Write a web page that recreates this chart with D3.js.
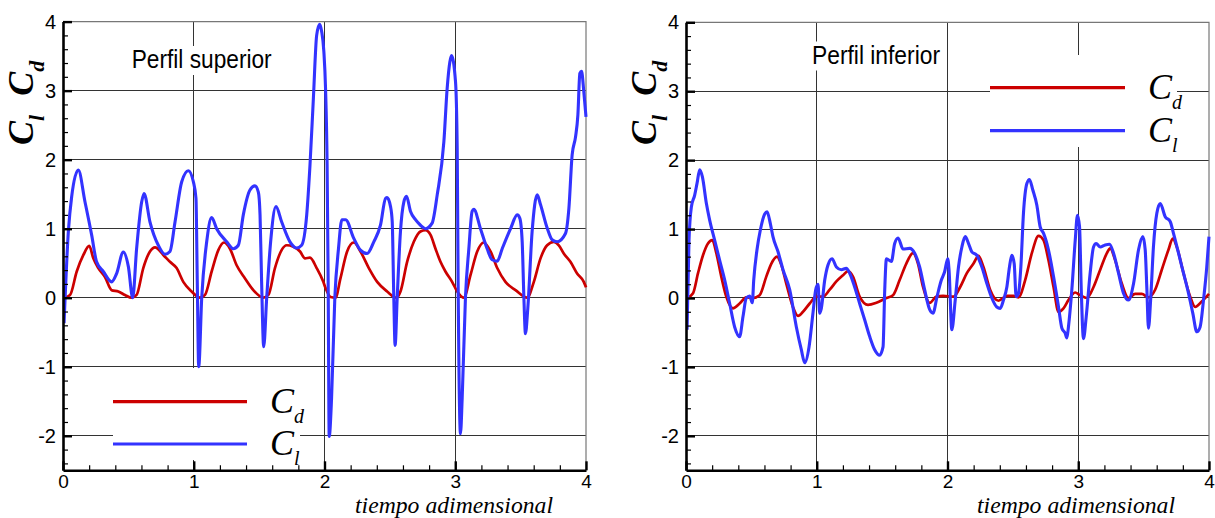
<!DOCTYPE html>
<html>
<head>
<meta charset="utf-8">
<script src="https://cdn.jsdelivr.net/npm/d3@7"></script>
<style>
  html, body { margin: 0; padding: 0; background: #ffffff; }
  svg { display: block; }
</style>
</head>
<body>
<svg id="chart" width="1215" height="518"></svg>
<script>
// ---------------- DATA ----------------
const xTicks = [0, 1, 2, 3, 4];
const yTicks = [-2, -1, 0, 1, 2, 3, 4];
const xLabel = "tiempo adimensional";
const panelTitles = ["Perfil superior", "Perfil inferior"];
const seriesNames = ["d", "l"]; // C_d (red), C_l (blue)

// Perfil superior : C_l  [tiempo, valor]
const supCl = [
  [0.008,-0.37],[0.041,0.96],[0.066,1.46],[0.117,1.85],[0.168,1.39],[0.219,0.91],[0.257,0.52],
  [0.308,0.38],[0.372,0.23],[0.410,0.35],[0.461,0.66],[0.500,0.45],[0.533,0.0],[0.563,0.71],
  [0.602,1.39],[0.620,1.51],[0.665,1.10],[0.729,0.76],[0.780,0.63],[0.818,0.67],[0.857,1.10],
  [0.908,1.68],[0.959,1.84],[0.997,1.68],[1.017,1.44],[1.027,0.23],[1.038,-1.0],[1.061,0.0],
  [1.099,0.81],[1.137,1.16],[1.175,1.0],[1.252,0.81],[1.303,0.71],[1.341,0.76],[1.379,1.20],
  [1.430,1.56],[1.468,1.62],[1.494,1.53],[1.507,1.20],[1.519,0.23],[1.535,-0.71],[1.558,0.0],
  [1.588,0.81],[1.629,1.32],[1.672,1.10],[1.736,0.81],[1.787,0.72],[1.825,0.76],[1.864,1.20],
  [1.889,1.92],[1.915,2.89],[1.940,3.80],[1.963,3.96],[1.978,3.86],[1.995,3.57],[2.008,3.03],
  [2.020,1.92],[2.028,0.23],[2.036,-2.01],[2.054,-1.46],[2.079,0.0],[2.107,0.71],[2.133,1.13],
  [2.161,1.13],[2.224,0.86],[2.275,0.69],[2.326,0.64],[2.377,0.81],[2.428,1.05],[2.467,1.44],
  [2.479,1.45],[2.505,1.32],[2.518,1.10],[2.530,0.0],[2.540,-0.69],[2.556,0.0],[2.581,0.96],
  [2.607,1.39],[2.627,1.47],[2.658,1.25],[2.696,1.13],[2.734,1.05],[2.772,1.0],[2.823,1.08],
  [2.862,1.49],[2.913,2.26],[2.938,3.03],[2.959,3.42],[2.971,3.51],[3.002,3.13],[3.015,2.16],
  [3.022,0.23],[3.040,-1.97],[3.053,-1.46],[3.078,0.0],[3.104,0.71],[3.129,1.25],[3.142,1.28],
  [3.193,1.0],[3.244,0.71],[3.282,0.55],[3.321,0.53],[3.359,0.71],[3.423,1.0],[3.474,1.20],
  [3.494,1.15],[3.512,0.81],[3.525,0.0],[3.537,-0.52],[3.555,-0.15],[3.588,0.96],[3.627,1.49],
  [3.652,1.35],[3.703,1.01],[3.741,0.84],[3.779,0.81],[3.843,0.93],[3.869,1.29],[3.894,2.07],
  [3.920,2.33],[3.938,2.65],[3.953,3.25],[3.966,3.28],[3.983,2.99],[4.0,2.62]
];

// Perfil superior : C_d
const supCd = [
  [0.008,0.0],[0.054,0.04],[0.105,0.38],[0.156,0.62],[0.201,0.75],[0.232,0.57],[0.270,0.43],
  [0.321,0.30],[0.372,0.11],[0.423,0.09],[0.474,0.04],[0.525,0.0],[0.563,0.04],[0.614,0.43],
  [0.665,0.67],[0.704,0.73],[0.767,0.62],[0.818,0.52],[0.869,0.43],[0.920,0.23],[0.984,0.09],
  [1.048,0.0],[1.086,0.04],[1.137,0.38],[1.188,0.69],[1.231,0.80],[1.277,0.71],[1.328,0.47],
  [1.392,0.28],[1.456,0.11],[1.533,0.0],[1.571,0.04],[1.621,0.43],[1.672,0.69],[1.711,0.76],
  [1.762,0.74],[1.813,0.67],[1.851,0.57],[1.889,0.58],[1.940,0.43],[1.991,0.23],[2.008,0.14],
  [2.046,0.01],[2.084,0.0],[2.122,0.28],[2.173,0.67],[2.224,0.80],[2.275,0.67],[2.339,0.43],
  [2.403,0.23],[2.479,0.09],[2.551,0.0],[2.581,0.09],[2.632,0.52],[2.683,0.81],[2.734,0.96],
  [2.772,0.98],[2.811,0.91],[2.849,0.71],[2.887,0.52],[2.925,0.38],[2.976,0.23],[3.015,0.09],
  [3.066,0.0],[3.117,0.33],[3.168,0.67],[3.219,0.80],[3.270,0.67],[3.321,0.43],[3.384,0.23],
  [3.461,0.11],[3.550,0.0],[3.601,0.23],[3.652,0.57],[3.703,0.76],[3.754,0.81],[3.792,0.76],
  [3.830,0.64],[3.881,0.52],[3.932,0.35],[3.983,0.23],[4.0,0.15]
];

// Perfil inferior : C_l
const infCl = [
  [0.008,-0.46],[0.023,0.84],[0.041,1.32],[0.066,1.49],[0.084,1.66],[0.105,1.86],[0.125,1.76],
  [0.156,1.37],[0.181,1.13],[0.219,0.84],[0.257,0.55],[0.296,0.26],[0.334,-0.08],[0.372,-0.42],
  [0.410,-0.56],[0.436,-0.27],[0.461,0.0],[0.487,0.03],[0.507,-0.07],[0.518,0.26],[0.543,0.70],
  [0.569,0.99],[0.602,1.22],[0.620,1.25],[0.645,1.08],[0.665,0.89],[0.704,0.67],[0.742,0.41],
  [0.793,0.12],[0.844,-0.42],[0.882,-0.75],[0.908,-0.94],[0.941,-0.71],[0.971,-0.22],[0.992,0.12],
  [1.010,0.20],[1.022,-0.22],[1.035,-0.15],[1.061,0.26],[1.086,0.48],[1.117,0.57],[1.150,0.45],
  [1.188,0.41],[1.226,0.43],[1.252,0.36],[1.290,0.16],[1.328,-0.08],[1.367,-0.32],[1.405,-0.56],
  [1.443,-0.75],[1.481,-0.83],[1.507,-0.71],[1.520,0.12],[1.533,0.57],[1.571,0.53],[1.596,0.79],
  [1.622,0.87],[1.660,0.71],[1.711,0.72],[1.749,0.65],[1.787,0.45],[1.825,0.12],[1.864,-0.17],
  [1.889,-0.22],[1.920,0.02],[1.953,0.26],[1.978,0.38],[2.002,0.57],[2.012,0.40],[2.033,-0.46],
  [2.059,-0.03],[2.084,0.45],[2.110,0.74],[2.135,0.89],[2.161,0.79],[2.186,0.67],[2.224,0.62],
  [2.263,0.45],[2.301,0.21],[2.339,0.0],[2.377,-0.13],[2.403,-0.15],[2.428,-0.03],[2.454,0.16],
  [2.474,0.45],[2.492,0.62],[2.510,0.50],[2.525,0.02],[2.543,0.07],[2.561,0.45],[2.581,1.23],
  [2.607,1.66],[2.627,1.72],[2.652,1.57],[2.683,1.35],[2.709,1.03],[2.734,0.94],[2.772,0.70],
  [2.811,0.31],[2.849,-0.13],[2.875,-0.44],[2.900,-0.51],[2.913,-0.58],[2.925,-0.42],[2.951,0.12],
  [2.977,0.84],[2.994,1.20],[3.010,1.03],[3.023,0.12],[3.040,-0.59],[3.061,-0.27],[3.091,0.36],
  [3.117,0.74],[3.137,0.79],[3.168,0.74],[3.206,0.77],[3.239,0.78],[3.270,0.65],[3.308,0.36],
  [3.346,0.07],[3.384,-0.03],[3.423,0.21],[3.461,0.70],[3.494,0.89],[3.512,0.70],[3.525,0.12],
  [3.537,-0.44],[3.555,0.02],[3.575,0.74],[3.601,1.23],[3.627,1.37],[3.665,1.18],[3.703,1.11],
  [3.728,0.94],[3.767,0.65],[3.805,0.36],[3.843,0.07],[3.876,-0.22],[3.907,-0.49],[3.932,-0.42],
  [3.958,-0.03],[3.983,0.45],[4.0,0.89]
];

// Perfil inferior : C_d
const infCd = [
  [0.008,0.0],[0.054,0.07],[0.092,0.36],[0.130,0.62],[0.168,0.79],[0.201,0.84],[0.232,0.65],
  [0.270,0.31],[0.308,0.02],[0.359,-0.15],[0.410,-0.08],[0.461,0.01],[0.512,0.0],[0.563,0.04],
  [0.614,0.31],[0.653,0.50],[0.696,0.60],[0.729,0.48],[0.767,0.21],[0.818,-0.13],[0.857,-0.26],
  [0.895,-0.20],[0.946,-0.08],[0.997,0.02],[1.048,0.02],[1.099,0.12],[1.150,0.24],[1.201,0.33],
  [1.239,0.39],[1.277,0.31],[1.328,0.02],[1.392,-0.10],[1.456,-0.07],[1.533,0.0],[1.583,0.04],
  [1.634,0.26],[1.685,0.50],[1.736,0.65],[1.774,0.50],[1.813,0.16],[1.864,-0.07],[1.915,0.02],
  [1.966,0.03],[2.046,0.02],[2.097,0.16],[2.148,0.36],[2.199,0.50],[2.237,0.61],[2.275,0.45],
  [2.326,0.12],[2.390,-0.04],[2.454,0.03],[2.505,0.03],[2.543,0.01],[2.594,0.26],[2.645,0.65],
  [2.696,0.90],[2.734,0.84],[2.772,0.55],[2.811,0.16],[2.849,-0.20],[2.887,-0.15],[2.925,-0.03],
  [2.976,0.08],[3.015,0.04],[3.066,0.0],[3.117,0.16],[3.168,0.41],[3.219,0.65],[3.244,0.72],
  [3.282,0.55],[3.333,0.21],[3.384,0.0],[3.435,0.06],[3.486,0.06],[3.537,0.01],[3.588,0.12],
  [3.639,0.41],[3.690,0.70],[3.723,0.86],[3.754,0.74],[3.805,0.36],[3.856,0.02],[3.894,-0.13],
  [3.945,-0.05],[4.0,0.06]
];

// ---------------- DRAW ----------------
const svg = d3.select("#chart");
const RED = "#cc0000", BLUE = "#3333ff";
const SANS = "'Liberation Sans', Arial, sans-serif";
const SERIF = "'Liberation Serif', 'Times New Roman', serif";
const fmt = d => String(d);

const panels = [
  { x0: 63, x1: 586, yTop: 21.6, yBot: 470.3, cl: supCl, cd: supCd, title: panelTitles[0],
    titleX: 131.7, titleY: 68, titleLen: 140,
    legend: { bx: 113, by: 368, bw: 187, bh: 92, lx0: 113, lx1: 247, yRed: 401.7, yBlue: 444, tx: 270 },
    xLabelX: 355 },
  { x0: 686, x1: 1209, yTop: 22.3, yBot: 470.3, cl: infCl, cd: infCd, title: panelTitles[1],
    titleX: 812, titleY: 63.5, titleLen: 128,
    legend: { bx: 990, by: 55, bw: 187, bh: 92, lx0: 990, lx1: 1125, yRed: 87.7, yBlue: 130.7, tx: 1148 },
    xLabelX: 977 }
];

panels.forEach((p, i) => {
  const x = d3.scaleLinear().domain([0, 4]).range([p.x0, p.x1]);
  const y = d3.scaleLinear().domain([-2.5, 4]).range([p.yBot, p.yTop]);
  const g = svg.append("g");

  // grid lines
  g.append("g").selectAll("line").data(yTicks.filter(v => v < 4)).join("line")
    .attr("x1", x(0)).attr("x2", x(4)).attr("y1", d => y(d)).attr("y2", d => y(d))
    .attr("stroke", "#333").attr("stroke-width", 1).attr("shape-rendering", "crispEdges");
  g.append("g").selectAll("line").data(xTicks.filter(v => v > 0 && v < 4)).join("line")
    .attr("x1", d => x(d)).attr("x2", d => x(d)).attr("y1", y(4)).attr("y2", y(-2.5))
    .attr("stroke", "#333").attr("stroke-width", 1).attr("shape-rendering", "crispEdges");

  // frame top & right
  g.append("path")
    .attr("d", `M${x(0)},${y(4)}H${x(4)}V${y(-2.5)}`)
    .attr("fill", "none").attr("stroke", "#777").attr("stroke-width", 1.2);

  // title with white backing
  g.append("rect")
    .attr("x", p.titleX - 3).attr("y", p.titleY - 22).attr("width", p.titleLen + 6).attr("height", 29)
    .attr("fill", "#fff");
  g.append("text")
    .attr("x", p.titleX).attr("y", p.titleY)
    .attr("font-family", SANS).attr("font-size", 25)
    .attr("textLength", p.titleLen).attr("lengthAdjust", "spacingAndGlyphs")
    .attr("fill", "#000").text(p.title);

  // legend
  const L = p.legend;
  g.append("rect").attr("x", L.bx).attr("y", L.by).attr("width", L.bw).attr("height", L.bh).attr("fill", "#fff");
  [[L.yRed, RED, seriesNames[0]], [L.yBlue, BLUE, seriesNames[1]]].forEach(([ly, col, sub]) => {
    g.append("line").attr("x1", L.lx0).attr("x2", L.lx1).attr("y1", ly).attr("y2", ly)
      .attr("stroke", col).attr("stroke-width", 3.2);
    const t = g.append("text").attr("x", L.tx).attr("y", ly + 11)
      .attr("font-family", SERIF).attr("font-style", "italic").attr("font-size", 36).attr("fill", "#000");
    t.append("tspan").text("C");
    t.append("tspan").attr("dy", 10).attr("font-size", 20).text(sub);
  });

  // curves
  const clipId = "clip" + i;
  svg.append("clipPath").attr("id", clipId).append("rect")
    .attr("x", x(0)).attr("y", y(4) - 2).attr("width", x(4) - x(0) + 2).attr("height", y(-2.5) - y(4) + 2);
  const line = d3.line().x(d => x(d[0])).y(d => y(d[1])).curve(d3.curveMonotoneX);
  g.append("path").datum(p.cd).attr("d", line).attr("fill", "none")
    .attr("stroke", RED).attr("stroke-width", 2.7).attr("stroke-linejoin", "round").attr("clip-path", `url(#${clipId})`);
  g.append("path").datum(p.cl).attr("d", line).attr("fill", "none")
    .attr("stroke", BLUE).attr("stroke-width", 3.1).attr("stroke-linejoin", "round").attr("clip-path", `url(#${clipId})`);

  // axes
  const minorY = d3.range(-2.4, 4.0001, 0.2).map(v => +v.toFixed(1)).filter(v => !Number.isInteger(v));
  const minorX = d3.range(0.2, 4, 0.2).map(v => +v.toFixed(1)).filter(v => !Number.isInteger(v));

  const yAxis = g.append("g").attr("transform", `translate(${x(0)},0)`)
    .call(d3.axisLeft(y).tickValues(yTicks).tickSizeInner(-9).tickSizeOuter(0).tickPadding(7).tickFormat(fmt));
  yAxis.select(".domain").attr("stroke", "#000").attr("stroke-width", 2.6);
  yAxis.selectAll(".tick line").attr("stroke", "#000").attr("stroke-width", 2.4);
  yAxis.selectAll(".tick text").attr("font-family", SANS).attr("font-size", 20).attr("fill", "#000");
  const yMinor = g.append("g").attr("transform", `translate(${x(0)},0)`)
    .call(d3.axisLeft(y).tickValues(minorY).tickSizeInner(-5).tickSizeOuter(0).tickFormat(""));
  yMinor.select(".domain").remove();
  yMinor.selectAll(".tick line").attr("stroke", "#000").attr("stroke-width", 1.2);

  const xAxis = g.append("g").attr("transform", `translate(0,${y(-2.5)})`)
    .call(d3.axisBottom(x).tickValues(xTicks).tickSizeInner(-9).tickSizeOuter(0).tickPadding(4).tickFormat(fmt));
  xAxis.select(".domain").attr("stroke", "#000").attr("stroke-width", 2.6);
  xAxis.selectAll(".tick line").attr("stroke", "#000").attr("stroke-width", 2.4);
  xAxis.selectAll(".tick text").attr("font-family", SANS).attr("font-size", 19).attr("fill", "#000");
  const xMinor = g.append("g").attr("transform", `translate(0,${y(-2.5)})`)
    .call(d3.axisBottom(x).tickValues(minorX).tickSizeInner(-5).tickSizeOuter(0).tickFormat(""));
  xMinor.select(".domain").remove();
  xMinor.selectAll(".tick line").attr("stroke", "#000").attr("stroke-width", 1.2);

  // axis titles
  g.append("text").attr("x", p.xLabelX).attr("y", 513)
    .attr("font-family", SERIF).attr("font-style", "italic").attr("font-size", 23)
    .attr("textLength", 198).attr("lengthAdjust", "spacingAndGlyphs")
    .attr("fill", "#000").text(xLabel);

  const yt = g.append("text")
    .attr("transform", `translate(${x(0) - 30},145) rotate(-90)`)
    .attr("font-family", SERIF).attr("font-style", "italic").attr("font-weight", "bold")
    .attr("font-size", 36).attr("fill", "#000");
  yt.append("tspan").text("C");
  yt.append("tspan").attr("dy", 11).attr("font-size", 22).text(seriesNames[1]);
  yt.append("tspan").attr("dy", -11).attr("dx", 19).text("C");
  yt.append("tspan").attr("dy", 11).attr("font-size", 22).text(seriesNames[0]);
});
</script>
</body>
</html>
